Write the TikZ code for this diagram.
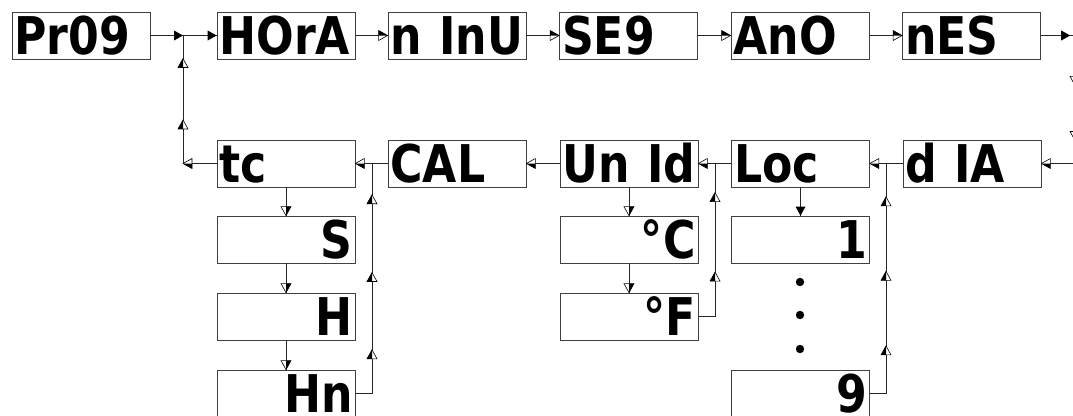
\documentclass[tikz,border=0pt]{standalone}
\usepackage{fontspec}
\newfontfamily\segfont[FakeStretch=0.85]{DejaVu Sans}
\tikzset{
  lcd/.style={draw=black!75, line width=0.8pt, minimum width=138pt, minimum height=47pt,
    inner xsep=2.5pt, inner ysep=4.5pt, text width=133pt, text height=38pt, text depth=0pt,
    font=\segfont\bfseries\fontsize{52pt}{52pt}\selectfont},
  lcdl/.style={lcd, align=left},
  lcdr/.style={lcd, align=right},
  link/.style={draw=black!85, line width=0.8pt},
  tipat/.style={pos=#1, sloped, allow upside down},
  halftip/.pic={
    \filldraw[fill=white, draw=black, line width=0.6pt] (-9pt,-5pt) -- (0,0) -- (-9pt,5pt) -- cycle;
    \fill (-9pt,0) -- (0,0) -- (-9pt,5pt) -- cycle;
  },
  fulltip/.pic={
    \fill (-9pt,-5pt) -- (0,0) -- (-9pt,5pt) -- cycle;
  },
}
\begin{document}
\begin{tikzpicture}[x=1pt, y=-1pt]
  \useasboundingbox (0,0) rectangle (1073,415);
  % top row
  \node[lcdl] (pr09) at (81,35.5) {Pr09};
  \node[lcdl] (hora) at (286,35.5) {HOrA};
  \node[lcdl] (minu) at (457,35.5) {n InU};
  \node[lcdl] (seg)  at (628.5,35.5) {SE9};
  \node[lcdl] (ano)  at (800,35.5) {AnO};
  \node[lcdl] (mes)  at (971.5,35.5) {nES};
  % second row
  \node[lcdl] (tc)   at (286,163.5) {tc};
  \node[lcdl] (cal)  at (457,163.5) {CAL};
  \node[lcdl] (unid) at (629,163.5) {Un Id};
  \node[lcdl] (loc)  at (800.5,163.5) {Loc};
  \node[lcdl] (dia)  at (972,163.5) {d IA};
  % sub menus
  \node[lcdr] (tcs)  at (286,239.5) {S};
  \node[lcdr] (tch)  at (286,316.5) {H};
  \node[lcdr] (tchn) at (286,393.5) {Hn};
  \node[lcdr] (degc) at (629,239.5) {°C};
  \node[lcdr] (degf) at (629,316.5) {°F};
  \node[lcdr] (locone)  at (800.5,239.5) {1};
  \node[lcdr] (locnine) at (800.5,393.5) {9};
  \foreach \y in {282,315,349}
    \fill (800,\y) circle (4.2pt);
  \coordinate (jl) at (183,35.5);
  \coordinate (cl) at (183,163.5);
  \coordinate (trc) at (1075,35.5);
  \coordinate (brc) at (1075,163.5);
  \coordinate (jtc) at (372,163.5);
  \coordinate (junit) at (715,163.5);
  \coordinate (jloc) at (886,163.5);
  % connectors
  \draw[link] (pr09.east) -- (jl) pic[tipat=1]{fulltip};
  \draw[link] (jl) -- (hora.west) pic[tipat=1]{fulltip};
  \draw[link] (hora.east) -- (minu.west) pic[tipat=1]{halftip};
  \draw[link] (minu.east) -- (seg.west) pic[tipat=1]{halftip};
  \draw[link] (seg.east) -- (ano.west) pic[tipat=1]{halftip};
  \draw[link] (ano.east) -- (mes.west) pic[tipat=1]{halftip};
  \draw[link] (mes.east) -- (trc) pic[tipat=0.86]{fulltip};
  \draw[link] (trc) -- (brc) pic[tipat=0.39]{halftip} pic[tipat=0.82]{halftip};
  \draw[link] (brc) -- (dia.east) pic[tipat=1]{halftip};
  \draw[link] (dia.west) -- (loc.east) pic[tipat=1]{halftip};
  \draw[link] (loc.west) -- (unid.east) pic[tipat=1]{halftip};
  \draw[link] (unid.west) -- (cal.east) pic[tipat=1]{halftip};
  \draw[link] (cal.west) -- (tc.east) pic[tipat=1]{halftip};
  \draw[link] (tc.west) -- (cl) pic[tipat=1]{halftip};
  \draw[link] (cl) -- (jl) pic[tipat=0.34]{halftip} pic[tipat=0.82]{halftip};
  \draw[link] (tc.south) -- (tcs.north) pic[tipat=1]{halftip};
  \draw[link] (tcs.south) -- (tch.north) pic[tipat=1]{halftip};
  \draw[link] (tch.south) -- (tchn.north) pic[tipat=1]{halftip};
  \draw[link] (tchn.east) -- (tchn.east -| jtc) -- (jtc)
    pic[tipat=0.19]{halftip} pic[tipat=0.526]{halftip} pic[tipat=0.864]{halftip};
  \draw[link] (unid.south) -- (degc.north) pic[tipat=1]{halftip};
  \draw[link] (degc.south) -- (degf.north) pic[tipat=1]{halftip};
  \draw[link] (degf.east) -- (degf.east -| junit) -- (junit)
    pic[tipat=0.29]{halftip} pic[tipat=0.81]{halftip};
  \draw[link] (loc.south) -- (locone.north) pic[tipat=1]{fulltip};
  \draw[link] (locnine.east) -- (locnine.east -| jloc) -- (jloc)
    pic[tipat=0.207]{halftip} pic[tipat=0.531]{halftip} pic[tipat=0.855]{halftip};
\end{tikzpicture}
\end{document}
